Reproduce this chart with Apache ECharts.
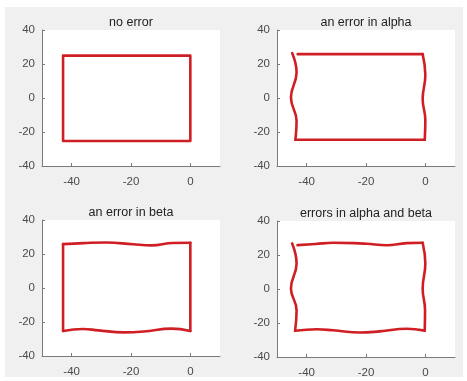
<!DOCTYPE html>
<html>
<head>
<meta charset="utf-8">
<script src="https://cdn.jsdelivr.net/npm/echarts@6/dist/echarts.min.js"></script>
<style>
  html, body { margin: 0; padding: 0; background: #fff; }
  #main { width: 467px; height: 381px; }
</style>
</head>
<body>
<div id="main"></div>
<script>
// axis ticks
const xTicks = [-40, -20, 0]
const yTicks = [-40, -20, 0, 20, 40]
const panelTitles = ['no error', 'an error in alpha', 'an error in beta', 'errors in alpha and beta']

// panel 1: no error
const noErrorPath = [[-42.9, 24.9], [0, 24.9], [0, -25.3], [-42.9, -25.3], [-42.9, 24.9]]

// panel 2: error in alpha (sides wavy)
const alphaTop = [[-43.0, 25.8], [-0.9, 25.8]]
const alphaRight = [[-0.9, 25.8], [0.0, 13.5], [-0.9, -0.5], [0.0, -13], [-0.2, -24.6]]
const alphaBottom = [[-0.2, -24.6], [-43.8, -24.6]]
const alphaLeft = [[-43.8, -24.6], [-43.4, -13.5], [-45.3, 0.3], [-43.4, 15], [-44.9, 26.4]]

// panel 3: error in beta (top/bottom wavy)
const betaTop = [[-42.9, 25.8], [-36, 26.4], [-28.3, 26.8], [-19.3, 25.7], [-13.1, 25.1], [-5.9, 26.5], [0, 26.6]]
const betaRight = [[0, 26.6], [0, -25.3]]
const betaBottom = [[0, -25.3], [-6.3, -23.9], [-15.7, -25.6], [-22.5, -26.1], [-31, -24.9], [-36.2, -24.1], [-42.9, -25.3]]
const betaLeft = [[-42.9, -25.3], [-42.9, 25.8]]

// panel 4: errors in alpha and beta
const bothTop = [[-43.1, 25.8], [-37, 26.5], [-31, 27.2], [-24, 27], [-19.8, 26.6], [-13, 25.7], [-6.3, 27], [-0.9, 27.2]]
const bothRight = [[-0.9, 27.2], [0.0, 15], [-0.9, 0.3], [-0.1, -12.5], [-0.2, -24.5]]
const bothBottom = [[-0.2, -24.5], [-6.3, -23.4], [-15.3, -24.9], [-22, -25.6], [-31, -24.3], [-36.6, -23.7], [-43.9, -24.6]]
const bothLeft = [[-43.9, -24.6], [-43.4, -12.5], [-45.3, 0.3], [-43.4, 15], [-44.9, 26.8]]

const panelStrokes = [
  [noErrorPath],
  [alphaTop, alphaRight, alphaBottom, alphaLeft],
  [betaTop, betaRight, betaBottom, betaLeft],
  [bothTop, bothRight, bothBottom, bothLeft]
]

const grids = [
  { left: 42, top: 30, width: 178, height: 136 },
  { left: 277, top: 30, width: 178, height: 136 },
  { left: 42, top: 220, width: 178, height: 136 },
  { left: 277, top: 221, width: 178, height: 136 }
]

const axisGray = '#7a7a7a'
const labelStyle = { color: '#4a4a4a', fontSize: 11.5, fontFamily: 'Liberation Sans, Arial, sans-serif' }

let chart = echarts.init(document.getElementById('main'), null, { renderer: 'canvas' })

let series = []
panelStrokes.forEach((strokes, i) => {
  strokes.forEach(pts => {
    series.push({
      type: 'line',
      xAxisIndex: i,
      yAxisIndex: i,
      data: pts,
      smooth: 0.45,
      symbol: 'none',
      silent: true,
      lineStyle: { color: '#cf1f25', width: 2.6, cap: 'round', join: 'round' }
    })
  })
})

let option = {
  animation: false,
  backgroundColor: '#ffffff',
  graphic: [
    { type: 'rect', z: -100, silent: true, shape: { x: 5, y: 7, width: 458, height: 370 }, style: { fill: '#f0f0f0' } }
  ].concat(panelTitles.map((t, i) => ({
    type: 'text',
    x: grids[i].left + grids[i].width / 2,
    y: grids[i].top - 7,
    style: {
      text: t,
      textAlign: 'center',
      textVerticalAlign: 'middle',
      fill: '#222',
      font: '12.5px "Liberation Sans", Arial, sans-serif'
    }
  }))),
  grid: grids.map(g => Object.assign({ show: true, backgroundColor: '#fff', borderWidth: 0 }, g)),
  xAxis: grids.map((g, i) => ({
    type: 'value',
    gridIndex: i,
    min: -50,
    max: 10,
    axisLine: { onZero: false, lineStyle: { color: axisGray } },
    axisTick: { inside: true, length: 3, customValues: xTicks, lineStyle: { color: axisGray } },
    axisLabel: Object.assign({ margin: 10, customValues: xTicks }, labelStyle),
    splitLine: { show: false }
  })),
  yAxis: grids.map((g, i) => ({
    type: 'value',
    gridIndex: i,
    min: -40,
    max: 40,
    interval: 20,
    axisLine: { show: true, onZero: false, lineStyle: { color: axisGray } },
    axisTick: { show: true, inside: true, length: 3, lineStyle: { color: axisGray } },
    axisLabel: Object.assign({ margin: 7 }, labelStyle),
    splitLine: { show: false }
  })),
  series: series
}
chart.setOption(option)
</script>
</body>
</html>
